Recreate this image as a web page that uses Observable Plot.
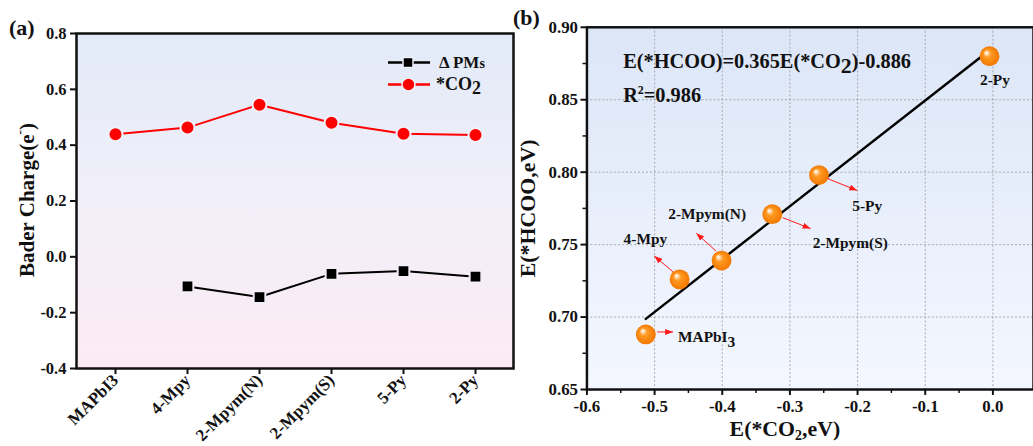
<!DOCTYPE html>
<html><head><meta charset="utf-8">
<script src="https://cdn.jsdelivr.net/npm/d3@7"></script>
<script src="https://cdn.jsdelivr.net/npm/@observablehq/plot@0.6"></script>
<style>
html,body{margin:0;padding:0;background:#fff}
body{width:1033px;height:446px;overflow:hidden;position:relative;font-family:"Liberation Serif",serif}
#a{position:absolute;left:0;top:0}
#b{position:absolute;left:513px;top:0}
svg{overflow:visible}
</style></head><body>
<div id="a"></div><div id="b"></div>
<script>
// ---------- Panel (a) data ----------
const categories = ["MAPbI3", "4-Mpy", "2-Mpym(N)", "2-Mpym(S)", "5-Py", "2-Py"];
const co2Charge = [0.439, 0.463, 0.545, 0.480, 0.441, 0.436];
const pmCharge = [null, -0.106, -0.144, -0.061, -0.051, -0.071];
const yTicksA = [-0.4, -0.2, 0.0, 0.2, 0.4, 0.6, 0.8];

// ---------- Panel (b) data ----------
const molecules = ["MAPbI3", "4-Mpy", "2-Mpym(N)", "2-Mpym(S)", "5-Py", "2-Py"];
const eCO2 = [-0.513, -0.463, -0.401, -0.326, -0.257, -0.005];
const eHCOO = [0.688, 0.726, 0.739, 0.771, 0.798, 0.880];
const fitSlope = 0.365;
const fitIntercept = 0.886;
const xTicksB = [-0.6, -0.5, -0.4, -0.3, -0.2, -0.1, 0.0];
const xMinorB = [-0.55, -0.45, -0.35, -0.25, -0.15, -0.05];
const yTicksB = [0.65, 0.70, 0.75, 0.80, 0.85, 0.90];
const yMinorB = [0.675, 0.725, 0.775, 0.825, 0.875];

const FONT = '"Liberation Serif", "Times New Roman", serif';

// ---------- Panel (a) ----------
const rowsA = categories.map((c, i) => ({cat: c, co2: co2Charge[i], pm: pmCharge[i]}));
const pmRows = rowsA.filter(d => d.pm != null);

const plotA = Plot.plot({
  width: 520, height: 446,
  marginLeft: 76, marginRight: 7, marginTop: 33, marginBottom: 78,
  style: {fontFamily: FONT, fontWeight: "bold", fontSize: "16px", color: "#111", background: "transparent", overflow: "visible"},
  x: {type: "point", domain: categories, padding: 0.5},
  y: {domain: [-0.4, 0.8]},
  marks: [
    Plot.frame({fill: "url(#bgA)"}),
    Plot.axisY({ticks: yTicksA, tickFormat: d => d.toFixed(1), tickSize: 6, tickPadding: 4, strokeWidth: 2, label: null, fontSize: 16.5}),
    Plot.axisX({tickRotate: -45, tickSize: 6, tickPadding: 3, strokeWidth: 2, label: null, fontSize: 17}),
    Plot.line(rowsA, {x: "cat", y: "co2", stroke: "#ff0000", strokeWidth: 2}),
    Plot.dot(rowsA, {x: "cat", y: "co2", r: 7, fill: "#ff0000", stroke: "#f2f0f8", strokeWidth: 2}),
    Plot.line(pmRows, {x: "cat", y: "pm", stroke: "#000", strokeWidth: 2}),
    Plot.dot(pmRows, {x: "cat", y: "pm", symbol: "square", r: 6.6, fill: "#000", stroke: "#f4eef8", strokeWidth: 2}),
    Plot.frame({stroke: "#111", strokeWidth: 2.5})
  ]
});
document.getElementById("a").appendChild(plotA);
{
  const svg = d3.select(plotA);
  const defs = svg.insert("defs", ":first-child");
  const g = defs.append("linearGradient").attr("id", "bgA").attr("x1", 0).attr("y1", 0).attr("x2", 0).attr("y2", 1);
  g.append("stop").attr("offset", "0%").attr("stop-color", "#e2eaf8");
  g.append("stop").attr("offset", "50%").attr("stop-color", "#f1eff9");
  g.append("stop").attr("offset", "100%").attr("stop-color", "#fcebf4");
  // panel letter
  svg.append("text").attr("x", 9).attr("y", 35).attr("text-anchor", "start").attr("font-family", FONT).attr("font-weight", "bold")
    .attr("font-size", 22).attr("fill", "#111").text("(a)");
  // y title
  const yt = svg.append("text").attr("transform", "translate(27,200) rotate(-90)").attr("text-anchor", "middle")
    .attr("dominant-baseline", "central").attr("font-family", FONT).attr("font-weight", "bold").attr("font-size", 21).attr("fill", "#111");
  yt.append("tspan").text("Bader Charge(e");
  yt.append("tspan").attr("font-size", 13).attr("dy", -8).text("-");
  yt.append("tspan").attr("dy", 8).text(")");
  // legend
  const lg = svg.append("g").attr("font-family", FONT).attr("font-weight", "bold").attr("fill", "#111").attr("text-anchor", "start");
  lg.append("line").attr("x1", 388).attr("x2", 430).attr("y1", 62.5).attr("y2", 62.5).attr("stroke", "#000").attr("stroke-width", 2.5);
  lg.append("rect").attr("x", 403).attr("y", 57.5).attr("width", 10).attr("height", 10).attr("fill", "#000").attr("stroke", "#eef0f9").attr("stroke-width", 1.5);
  const t1 = lg.append("text").attr("x", 439).attr("y", 67.5).attr("font-size", 17).attr("text-anchor", "start");
  t1.append("tspan").text("\u0394 PM");
  t1.append("tspan").attr("font-size", 14).text("s");
  lg.append("line").attr("x1", 388).attr("x2", 430).attr("y1", 84.5).attr("y2", 84.5).attr("stroke", "#ff0000").attr("stroke-width", 2.5);
  lg.append("circle").attr("cx", 408.5).attr("cy", 84.5).attr("r", 6.5).attr("fill", "#ff0000").attr("stroke", "#eef0f9").attr("stroke-width", 1.5);
  const t2 = lg.append("text").attr("x", 436).attr("y", 90).attr("font-size", 18).attr("text-anchor", "start");
  t2.append("tspan").text("*CO");
  t2.append("tspan").attr("dy", 4).text("2");
}

// ---------- Panel (b) ----------
const pts = molecules.map((m, i) => ({name: m, x: eCO2[i], y: eHCOO[i]}));
const fitEnds = [d3.min(eCO2), d3.max(eCO2)].map(x => ({x, y: fitSlope * x + fitIntercept}));

// label placements (pixel offsets from each point)
const annotations = [
  {name: "MAPbI3", label: ["MAPbI", "3"], dx: 33, dy: 8, anchor: "start", arrow: [12, -2, 28, -2]},
  {name: "4-Mpy", label: ["4-Mpy"], dx: -34, dy: -35, anchor: "middle", arrow: [-6, -7, -25, -23]},
  {name: "2-Mpym(N)", label: ["2-Mpym(N)"], dx: -14, dy: -41, anchor: "middle", arrow: [-5, -9, -25, -27]},
  {name: "2-Mpym(S)", label: ["2-Mpym(S)"], dx: 79, dy: 35, anchor: "middle", arrow: [11, 4, 39, 15]},
  {name: "5-Py", label: ["5-Py"], dx: 49, dy: 37, anchor: "middle", arrow: [9, 4, 39, 16]},
  {name: "2-Py", label: ["2-Py"], dx: 6, dy: 29, anchor: "middle", arrow: null}
];

function annotationMark(index, scales) {
  const g = d3.create("svg:g").attr("font-family", FONT).attr("font-weight", "bold").attr("font-size", 15.5).attr("fill", "#111");
  annotations.forEach(a => {
    const i = molecules.indexOf(a.name);
    const px = scales.x(eCO2[i]), py = scales.y(eHCOO[i]);
    if (a.arrow) {
      g.append("line").attr("x1", px + a.arrow[0]).attr("y1", py + a.arrow[1])
        .attr("x2", px + a.arrow[2]).attr("y2", py + a.arrow[3])
        .attr("stroke", "#ff1a1a").attr("stroke-width", 1).attr("marker-end", "url(#arrowRed)");
    }
    const t = g.append("text").attr("x", px + a.dx).attr("y", py + a.dy).attr("text-anchor", a.anchor);
    t.append("tspan").text(a.label[0]);
    if (a.label[1]) t.append("tspan").attr("dy", 5).text(a.label[1]);
  });
  return g.node();
}

const plotB = Plot.plot({
  width: 524, height: 446,
  marginLeft: 74, marginRight: 0, marginTop: 27, marginBottom: 54,
  style: {fontFamily: FONT, fontWeight: "bold", fontSize: "16px", color: "#111", background: "transparent", overflow: "visible"},
  x: {domain: [-0.6, 0.06]},
  y: {domain: [0.65, 0.90]},
  marks: [
    Plot.frame({fill: "url(#bgB)"}),
    Plot.gridX(xTicksB.slice(1), {stroke: "#8c8c8c", strokeOpacity: 0.7, strokeDasharray: "2,2", strokeWidth: 1}),
    Plot.gridY(yTicksB.slice(1, -1), {stroke: "#8c8c8c", strokeOpacity: 0.7, strokeDasharray: "2,2", strokeWidth: 1}),
    Plot.axisX(xTicksB, {tickFormat: d => d.toFixed(1), tickSize: 6, tickPadding: 5, strokeWidth: 2, label: null, fontSize: 17}),
    Plot.axisX(xMinorB, {tickFormat: () => "", tickSize: 4, strokeWidth: 1.5, label: null}),
    Plot.axisY(yTicksB, {tickFormat: d => d.toFixed(2), tickSize: 6, tickPadding: 3, strokeWidth: 2, label: null, fontSize: 17}),
    Plot.axisY(yMinorB, {tickFormat: () => "", tickSize: 4, strokeWidth: 1.5, label: null}),
    Plot.line(fitEnds, {x: "x", y: "y", stroke: "#000", strokeWidth: 2.5}),
    Plot.dot(pts, {x: "x", y: "y", r: 10, fill: "url(#sphere)"}),
    annotationMark,
    Plot.frame({stroke: "#111", strokeWidth: 2.5})
  ]
});
document.getElementById("b").appendChild(plotB);
{
  const svg = d3.select(plotB);
  const defs = svg.insert("defs", ":first-child");
  const g = defs.append("linearGradient").attr("id", "bgB").attr("x1", 0).attr("y1", 0).attr("x2", 0).attr("y2", 1);
  g.append("stop").attr("offset", "0%").attr("stop-color", "#dce6f7");
  g.append("stop").attr("offset", "100%").attr("stop-color", "#f4f7ff");
  const s = defs.append("radialGradient").attr("id", "sphere").attr("cx", "50%").attr("cy", "50%").attr("r", "50%")
    .attr("fx", "32%").attr("fy", "30%");
  s.append("stop").attr("offset", "0%").attr("stop-color", "#ffffff");
  s.append("stop").attr("offset", "14%").attr("stop-color", "#ffe2bf");
  s.append("stop").attr("offset", "38%").attr("stop-color", "#ff9a22");
  s.append("stop").attr("offset", "100%").attr("stop-color", "#f27700");
  const m = defs.append("marker").attr("id", "arrowRed").attr("viewBox", "0 0 8 6").attr("refX", 8).attr("refY", 3)
    .attr("markerWidth", 8).attr("markerHeight", 6).attr("markerUnits", "userSpaceOnUse").attr("orient", "auto");
  m.append("path").attr("d", "M0,0 L8,3 L0,6 Z").attr("fill", "#ff1a1a");

  svg.append("text").attr("x", 0).attr("y", 25).attr("text-anchor", "start").attr("font-family", FONT).attr("font-weight", "bold")
    .attr("font-size", 22).attr("fill", "#111").text("(b)");
  // equation
  const eq = svg.append("text").attr("x", 111).attr("y", 68.5).attr("text-anchor", "start").attr("font-family", FONT).attr("font-weight", "bold")
    .attr("font-size", 20.5).attr("fill", "#111");
  eq.append("tspan").text("E(*HCOO)=0.365E(*CO");
  eq.append("tspan").attr("dy", 5).attr("font-size", 22).text("2");
  eq.append("tspan").attr("dy", -5).text(")-0.886");
  const r2 = svg.append("text").attr("x", 111).attr("y", 102.5).attr("text-anchor", "start").attr("font-family", FONT).attr("font-weight", "bold")
    .attr("font-size", 20.5).attr("fill", "#111");
  r2.append("tspan").text("R");
  r2.append("tspan").attr("dy", -8).attr("font-size", 12).text("2");
  r2.append("tspan").attr("dy", 8).text("=0.986");
  // axis titles
  const xt = svg.append("text").attr("x", 274).attr("y", 439).attr("text-anchor", "middle").attr("font-family", FONT)
    .attr("font-weight", "bold").attr("font-size", 22).attr("fill", "#111");
  xt.append("tspan").text("E(*CO");
  xt.append("tspan").attr("dy", 4).attr("font-size", 14).text("2");
  xt.append("tspan").attr("dy", -4).text(",eV)");
  svg.append("text").attr("transform", "translate(15,210) rotate(-90)").attr("text-anchor", "middle")
    .attr("dominant-baseline", "central").attr("font-family", FONT).attr("font-weight", "bold").attr("font-size", 22)
    .attr("fill", "#111").text("E(*HCOO,eV)");
}
</script>
</body></html>
